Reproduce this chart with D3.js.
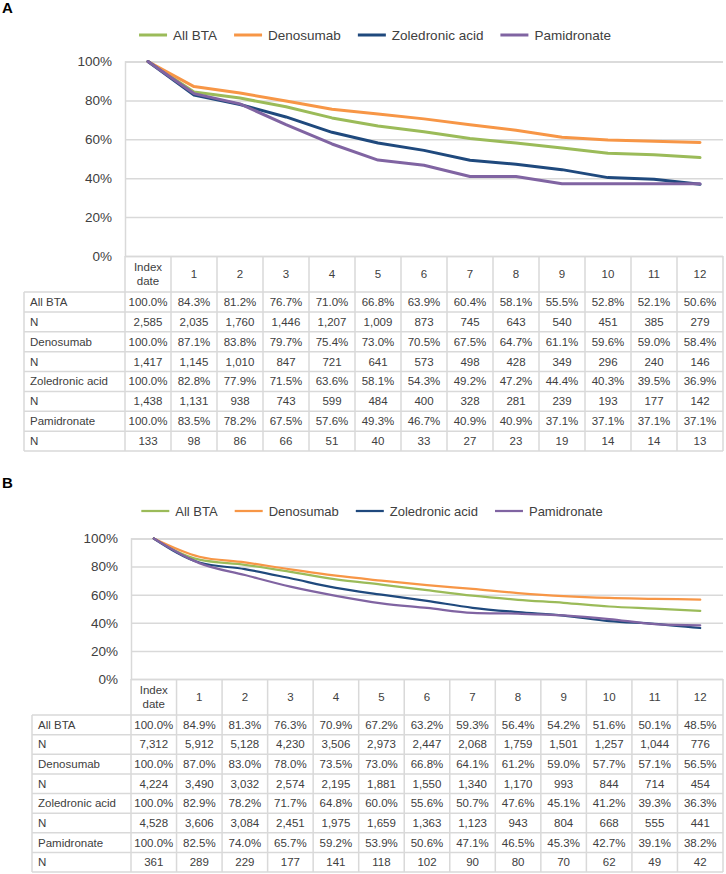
<!DOCTYPE html>
<html>
<head>
<meta charset="utf-8">
<script src="https://cdn.jsdelivr.net/npm/d3@7"></script>
<style>
  html, body { margin: 0; padding: 0; background: #fff; }
  svg { display: block; font-family: "Liberation Sans", Arial, sans-serif; }
</style>
</head>
<body>
<svg id="chart" width="726" height="874"></svg>
<script>
// ---------- DATA ----------
const columns = ["Index date", "1", "2", "3", "4", "5", "6", "7", "8", "9", "10", "11", "12"];
const seriesNames = ["All BTA", "Denosumab", "Zoledronic acid", "Pamidronate"];
const seriesColors = ["#9BBB59", "#F79646", "#1F497D", "#8064A2"];
const yTicks = [0, 20, 40, 60, 80, 100];

// Panel A (table values; plotted the same)
const allBtaA = [100.0, 84.3, 81.2, 76.7, 71.0, 66.8, 63.9, 60.4, 58.1, 55.5, 52.8, 52.1, 50.6];
const nAllBtaA = [2585, 2035, 1760, 1446, 1207, 1009, 873, 745, 643, 540, 451, 385, 279];
const denosumabA = [100.0, 87.1, 83.8, 79.7, 75.4, 73.0, 70.5, 67.5, 64.7, 61.1, 59.6, 59.0, 58.4];
const nDenosumabA = [1417, 1145, 1010, 847, 721, 641, 573, 498, 428, 349, 296, 240, 146];
const zoledronicA = [100.0, 82.8, 77.9, 71.5, 63.6, 58.1, 54.3, 49.2, 47.2, 44.4, 40.3, 39.5, 36.9];
const nZoledronicA = [1438, 1131, 938, 743, 599, 484, 400, 328, 281, 239, 193, 177, 142];
const pamidronateA = [100.0, 83.5, 78.2, 67.5, 57.6, 49.3, 46.7, 40.9, 40.9, 37.1, 37.1, 37.1, 37.1];
const nPamidronateA = [133, 98, 86, 66, 51, 40, 33, 27, 23, 19, 14, 14, 13];

// Panel B (table values)
const allBtaB = [100.0, 84.9, 81.3, 76.3, 70.9, 67.2, 63.2, 59.3, 56.4, 54.2, 51.6, 50.1, 48.5];
const nAllBtaB = [7312, 5912, 5128, 4230, 3506, 2973, 2447, 2068, 1759, 1501, 1257, 1044, 776];
const denosumabB = [100.0, 87.0, 83.0, 78.0, 73.5, 73.0, 66.8, 64.1, 61.2, 59.0, 57.7, 57.1, 56.5];
const nDenosumabB = [4224, 3490, 3032, 2574, 2195, 1881, 1550, 1340, 1170, 993, 844, 714, 454];
const zoledronicB = [100.0, 82.9, 78.2, 71.7, 64.8, 60.0, 55.6, 50.7, 47.6, 45.1, 41.2, 39.3, 36.3];
const nZoledronicB = [4528, 3606, 3084, 2451, 1975, 1659, 1363, 1123, 943, 804, 668, 555, 441];
const pamidronateB = [100.0, 82.5, 74.0, 65.7, 59.2, 53.9, 50.6, 47.1, 46.5, 45.3, 42.7, 39.1, 38.2];
const nPamidronateB = [361, 289, 229, 177, 141, 118, 102, 90, 80, 70, 62, 49, 42];
// Denosumab curve as plotted in panel B (month 5)
const denosumabLineB = [100.0, 87.0, 83.0, 78.0, 73.5, 70.0, 66.8, 64.1, 61.2, 59.0, 57.7, 57.1, 56.5];

// ---------- DRAW ----------
const svg = d3.select("#chart");
svg.append("rect").attr("width", 726).attr("height", 874).attr("fill", "#fff");

const pctFmt = v => d3.format(".1f")(v) + "%";
const nFmt = d3.format(",");
const gridColor = "#D9D9D9";
const textColor = "#404040";

const panels = [
  {
    label: "A", labelY: 13, legendY: 35, legendCx: 375, top: 61.5, zero: 256,
    tableLeft: 24, colLeft: 125, colRight: 723, rowTop: 292, rowBottom: 451,
    lineW: 3, curve: d3.curveLinear, yLabelX: 112, legendFont: 13.5,
    lines: [allBtaA, denosumabA, zoledronicA, pamidronateA],
    pcts: [allBtaA, denosumabA, zoledronicA, pamidronateA],
    ns: [nAllBtaA, nDenosumabA, nZoledronicA, nPamidronateA]
  },
  {
    label: "B", labelY: 488, legendY: 511, legendCx: 372, top: 538.5, zero: 679,
    tableLeft: 32, colLeft: 131, colRight: 723, rowTop: 715, rowBottom: 872,
    lineW: 2.25, curve: d3.curveMonotoneX, yLabelX: 118, legendFont: 13,
    lines: [allBtaB, denosumabLineB, zoledronicB, pamidronateB],
    pcts: [allBtaB, denosumabB, zoledronicB, pamidronateB],
    ns: [nAllBtaB, nDenosumabB, nZoledronicB, nPamidronateB]
  }
];

panels.forEach(p => {
  const g = svg.append("g");
  const x = d3.scaleBand().domain(columns).range([p.colLeft, p.colRight]).padding(0);
  const y = d3.scaleLinear().domain([0, 100]).range([p.zero, p.top]);
  const cx = c => x(c) + x.bandwidth() / 2;

  // panel letter
  g.append("text").attr("x", 2).attr("y", p.labelY)
    .attr("font-size", 15).attr("font-weight", "bold").attr("fill", "#000").text(p.label);

  // gridlines
  const yAxis = d3.axisLeft(y).tickValues(yTicks).tickFormat(d => d + "%").tickSize(-(p.colRight - p.colLeft)).tickPadding(13);
  const ag = g.append("g").attr("transform", `translate(${p.colLeft},0)`).call(yAxis);
  ag.select(".domain").attr("stroke", gridColor).attr("stroke-width", 1.5);
  ag.selectAll(".tick line").attr("stroke", gridColor).attr("stroke-width", 1.5);
  ag.selectAll(".tick text").attr("font-size", 13.5).attr("fill", textColor)
    .attr("font-family", "Liberation Sans, Arial, sans-serif")
    .attr("x", -(p.colLeft - p.yLabelX));

  // table grid
  const rowH = (p.rowBottom - p.rowTop) / 8;
  const tg = g.append("g").attr("stroke", gridColor).attr("stroke-width", 1.5).attr("fill", "none");
  columns.forEach(c => {
    tg.append("line").attr("x1", x(c)).attr("x2", x(c)).attr("y1", p.zero).attr("y2", p.rowBottom);
  });
  tg.append("line").attr("x1", p.colRight).attr("x2", p.colRight).attr("y1", p.zero).attr("y2", p.rowBottom);
  tg.append("line").attr("x1", p.tableLeft).attr("x2", p.tableLeft).attr("y1", p.rowTop).attr("y2", p.rowBottom);
  for (let r = 0; r <= 8; r++) {
    const yy = p.rowTop + r * rowH;
    tg.append("line").attr("x1", p.tableLeft).attr("x2", p.colRight).attr("y1", yy).attr("y2", yy);
  }

  // header text
  const hg = g.append("g").attr("font-size", 11.5).attr("fill", textColor).attr("text-anchor", "middle");
  const hMid = (p.zero + p.rowTop) / 2;
  columns.forEach((c, i) => {
    if (i === 0) {
      hg.append("text").attr("x", cx(c)).attr("y", hMid - 3).text("Index");
      hg.append("text").attr("x", cx(c)).attr("y", hMid + 11).text("date");
    } else {
      hg.append("text").attr("x", cx(c)).attr("y", hMid + 4).text(c);
    }
  });

  // rows
  const rg = g.append("g").attr("font-size", 11.5).attr("fill", textColor);
  seriesNames.forEach((name, s) => {
    const r1 = p.rowTop + (2 * s) * rowH + rowH / 2 + 4;
    const r2 = p.rowTop + (2 * s + 1) * rowH + rowH / 2 + 4;
    rg.append("text").attr("x", p.tableLeft + 6).attr("y", r1).text(name);
    rg.append("text").attr("x", p.tableLeft + 6).attr("y", r2).text("N");
    columns.forEach((c, i) => {
      rg.append("text").attr("x", cx(c)).attr("y", r1).attr("text-anchor", "middle").text(pctFmt(p.pcts[s][i]));
      rg.append("text").attr("x", cx(c)).attr("y", r2).attr("text-anchor", "middle").text(nFmt(p.ns[s][i]));
    });
  });

  // lines
  const line = d3.line().x((d, i) => cx(columns[i])).y(d => y(d)).curve(p.curve);
  p.lines.forEach((vals, s) => {
    g.append("path").datum(vals).attr("d", line).attr("fill", "none")
      .attr("stroke", seriesColors[s]).attr("stroke-width", p.lineW)
      .attr("stroke-linejoin", "round").attr("stroke-linecap", "round");
  });

  // legend
  const lg = g.append("g").attr("font-size", p.legendFont).attr("fill", textColor);
  const lineLen = 28, gapLT = 6, gapItem = 17;
  const items = seriesNames.map((name, s) => {
    const it = lg.append("g");
    it.append("line").attr("x1", 0).attr("x2", lineLen).attr("y1", 0).attr("y2", 0)
      .attr("stroke", seriesColors[s]).attr("stroke-width", p.lineW);
    const t = it.append("text").attr("x", lineLen + gapLT).attr("y", 5).text(name);
    return { it, w: lineLen + gapLT + t.node().getComputedTextLength() };
  });
  const total = d3.sum(items, d => d.w) + gapItem * (items.length - 1);
  let xx = p.legendCx - total / 2;
  items.forEach(d => {
    d.it.attr("transform", `translate(${xx},${p.legendY})`);
    xx += d.w + gapItem;
  });
});
</script>
</body>
</html>
